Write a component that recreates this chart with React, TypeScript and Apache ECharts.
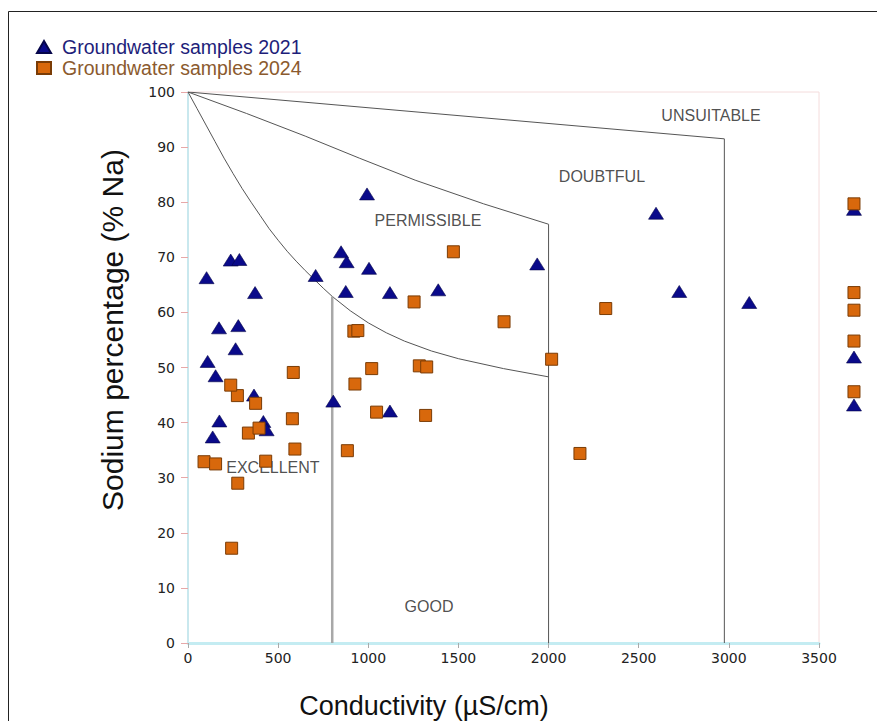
import React, { useEffect, useRef } from "react";
import * as echarts from "echarts";

// Groundwater samples 2021 : [conductivity µS/cm, sodium %]
const samples2021: number[][] = [
  [103, 66.3], [237, 69.5], [285, 69.6], [372, 63.6], [172, 57.2], [279, 57.6],
  [264, 53.4], [109, 51.1], [153, 48.5], [366, 45.0], [174, 40.3], [418, 40.2],
  [436, 38.7], [137, 37.4],
  [708, 66.7], [849, 71.0], [880, 69.2], [1004, 68.0], [875, 63.8], [806, 43.9],
  [993, 81.5], [1120, 63.6], [1388, 64.1], [1120, 42.1], [1937, 68.8],
  [2596, 78.0], [2725, 63.8], [3113, 61.8], [3694, 78.7], [3694, 51.9], [3694, 43.2],
];

// Groundwater samples 2024
const samples2024: number[][] = [
  [89, 32.9], [153, 32.5], [431, 33.0], [276, 29.0], [242, 17.2], [593, 35.2],
  [884, 34.9], [335, 38.1], [394, 39.0], [579, 40.7], [375, 43.5], [274, 44.9],
  [237, 46.8], [584, 49.1], [920, 56.6], [942, 56.7], [926, 47.0], [1019, 49.8],
  [1046, 41.9], [1283, 50.3], [1324, 50.1], [1318, 41.3], [1254, 61.9], [1472, 71.0],
  [1753, 58.3], [2017, 51.5], [2174, 34.4], [2317, 60.7],
  [3694, 79.7], [3694, 63.6], [3694, 60.4], [3694, 54.8], [3694, 45.6],
];

// Wilcox diagram boundaries
const excellentGoodCurve: number[][] = [
  [0, 100], [50, 97], [100, 94], [150, 91], [200, 88], [250, 85.2], [300, 82.5],
  [350, 80], [400, 77.6], [450, 75.2], [500, 73.1], [550, 71.1], [600, 69.3],
  [650, 67.6], [700, 66], [750, 64.4], [800, 62.9], [900, 60.3], [1000, 58.1],
  [1100, 56.3], [1200, 54.8], [1350, 53], [1500, 51.6], [1750, 49.8], [2000, 48.3],
];
const permissibleCurve: number[][] = [
  [0, 100], [325, 96.1], [650, 92], [950, 88], [1260, 84], [1640, 79.7], [2000, 76],
];
const doubtfulCurve: number[][] = [[0, 100], [2975, 91.5]];
const line800: number[][] = [[800, 0], [800, 62.9]];
const line2000: number[][] = [[2000, 0], [2000, 76]];
const line2975: number[][] = [[2975, 0], [2975, 91.5]];

const zoneLabels: { name: string; value: number[] }[] = [
  { name: "UNSUITABLE", value: [2901, 95.8] },
  { name: "DOUBTFUL", value: [2296, 84.6] },
  { name: "PERMISSIBLE", value: [1331, 76.6] },
  { name: "EXCELLENT", value: [471, 31.8] },
  { name: "GOOD", value: [1337, 6.7] },
];

const xAxisTitle = "Conductivity (µS/cm)";
const yAxisTitle = "Sodium percentage (% Na)";

const FONT = "'Liberation Sans', Arial, sans-serif";
const TICK_FONT = "'DejaVu Sans', sans-serif";

export default function App() {
  const ref = useRef<HTMLDivElement>(null);
  useEffect(() => {
    document.body.style.margin = "0";
    if (!ref.current) return;
    const chart = echarts.init(ref.current, undefined, { renderer: "svg" });
    const boundary = (data: number[][], color = "#555", width = 1) => ({
      type: "line",
      data,
      symbol: "none",
      silent: true,
      lineStyle: { color, width },
      z: 1,
    });
    chart.setOption({
      animation: false,
      backgroundColor: "#fff",
      textStyle: { fontFamily: FONT },
      grid: {
        left: 188, top: 92, width: 631, height: 551,
        outerBoundsMode: "none",
        containLabel: false,
        show: true, borderColor: "#f4dcdc", borderWidth: 1, backgroundColor: "transparent",
      },
      legend: {
        left: 36, top: 37, orient: "vertical", itemGap: 1, padding: 0,
        itemWidth: 14, itemHeight: 12,
        textStyle: { fontSize: 19.5, fontFamily: FONT, lineHeight: 20, padding: [0, 0, 0, 6] },
        data: [
          { name: "Groundwater samples 2021", icon: "triangle", textStyle: { color: "#1e1e7a" } },
          { name: "Groundwater samples 2024", icon: "rect", textStyle: { color: "#8b5a2e" } },
        ],
      },
      xAxis: {
        type: "value", min: 0, max: 3500, interval: 500,
        axisLine: { lineStyle: { color: "#c4ecf2", width: 3 } },
        axisTick: { length: 5, lineStyle: { color: "#aaa" } },
        axisLabel: {
          fontSize: 14, color: "#222", margin: 8, fontFamily: TICK_FONT,
          formatter: (v: number) => String(v),
        },
        splitLine: { show: false },
      },
      yAxis: {
        type: "value", min: 0, max: 100, interval: 10,
        axisLine: { show: true, lineStyle: { color: "#b8e6ee", width: 1.5 } },
        axisTick: { show: true, length: 7, lineStyle: { color: "#e6a8a8" } },
        axisLabel: {
          fontSize: 14, color: "#222", margin: 13, fontFamily: TICK_FONT,
          formatter: (v: number) => String(v),
        },
        splitLine: { show: false },
      },
      graphic: [
        {
          type: "rect", silent: true, z: -10,
          shape: { x: 8.5, y: 11.5, width: 1000, height: 900 },
          style: { fill: "none", stroke: "#222", lineWidth: 1 },
        },
        {
          type: "text", silent: true,
          x: 112, y: 330, rotation: Math.PI / 2,
          style: {
            text: yAxisTitle, fontSize: 30, fontFamily: FONT, fill: "#111",
            align: "center", verticalAlign: "middle",
          },
        },
        {
          type: "text", silent: true,
          x: 424, y: 706,
          style: {
            text: xAxisTitle, fontSize: 27, fontFamily: FONT, fill: "#111",
            align: "center", verticalAlign: "middle",
          },
        },
      ],
      series: [
        boundary(excellentGoodCurve),
        boundary(permissibleCurve),
        boundary(doubtfulCurve),
        boundary(line800, "#a8a8a8", 2.5),
        boundary(line2000),
        boundary(line2975),
        {
          type: "scatter",
          data: zoneLabels,
          symbolSize: 0,
          silent: true,
          label: {
            show: true, position: "inside", formatter: "{b}",
            fontSize: 16, color: "#222", fontFamily: FONT,
          },
          z: 2,
        },
        {
          name: "Groundwater samples 2021",
          type: "scatter",
          data: samples2021,
          symbol: "triangle",
          symbolSize: [15, 12],
          clip: false,
          itemStyle: { color: "#0a0a8a", borderColor: "#05054a", borderWidth: 0.6, opacity: 1 },
          z: 3,
        },
        {
          name: "Groundwater samples 2024",
          type: "scatter",
          data: samples2024,
          symbol: "rect",
          symbolSize: 12,
          clip: false,
          itemStyle: { color: "#d8680c", borderColor: "#7a3c06", borderWidth: 1, opacity: 1 },
          z: 4,
        },
      ],
    });
    return () => chart.dispose();
  }, []);
  return <div ref={ref} style={{ width: 877, height: 721 }} />;
}
